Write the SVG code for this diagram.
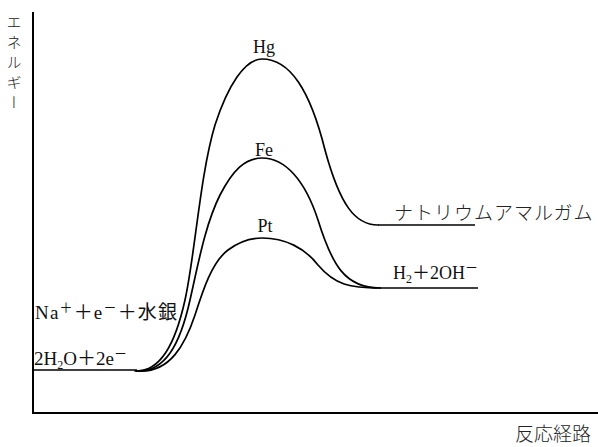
<svg xmlns="http://www.w3.org/2000/svg" width="598" height="447" viewBox="0 0 598 447">
<style>
.ax{stroke:#000;stroke-width:2;fill:none}
.cv{stroke:#000;stroke-width:1.7;fill:none;stroke-linecap:round}
.lv{stroke:#000;stroke-width:1.7;fill:none}
.t{font-family:"Liberation Serif","Times New Roman","Noto Sans CJK JP",serif;fill:#111}
.j{font-family:"Noto Sans CJK JP",sans-serif;fill:#222;font-weight:300}
</style>
<rect width="598" height="447" fill="#fff"/>
<g id="axes">
<path class="ax" d="M33,12 V413 H598"/>
<text class="j" x="14" y="15" font-size="15" writing-mode="vertical-rl" letter-spacing="5" fill="#222">エネルギー</text>
<text class="j" x="515" y="441" font-size="19">反応経路</text>
</g>
<g id="connectors">
<path id="hg-curve" class="cv" d="M135,371 C160,372 175,345 185,300 C195,255 200,175 215,125 C228,85 245,59 262,59 C290,59 310,90 325,150 C340,205 355,225 378,225"/>
<path id="fe-curve" class="cv" d="M137,371 C165,372 180,345 190,300 C198,265 205,225 220,195 C233,170 245,158 262,158 C285,158 305,180 318,220 C332,265 345,288 380,288"/>
<path id="pt-curve" class="cv" d="M140,371 C170,372 185,345 195,315 C203,290 212,262 228,250 C240,241 250,238 262,238 C285,238 305,248 318,265 C335,285 350,288 380,288"/>
</g>
<g id="reactant">
<path class="lv" d="M33,370 H137"/>
<text class="t" x="35" y="319" font-size="19" textLength="142" lengthAdjust="spacing">Na<tspan font-size="13" dy="-7">＋</tspan><tspan dy="7">＋e</tspan><tspan font-size="13" dy="-7">－</tspan><tspan dy="7">＋水銀</tspan></text>
<text class="t" x="34" y="365" font-size="19">2H<tspan font-size="12" dy="4">2</tspan><tspan dy="-4">O＋2e</tspan><tspan font-size="13" dy="-7">－</tspan></text>
</g>
<g id="amalgam">
<path class="lv" d="M378,225 H475"/>
<text class="j" x="394" y="220" font-size="19" letter-spacing="1">ナトリウムアマルガム</text>
</g>
<g id="h2">
<path class="lv" d="M380,288 H478"/>
<text class="t" x="393" y="279" font-size="18">H<tspan font-size="12" dy="4">2</tspan><tspan dy="-4">＋2OH</tspan><tspan font-size="13" dy="-7">－</tspan></text>
</g>
<g id="hg"><text class="t" x="264" y="53" font-size="18" text-anchor="middle">Hg</text></g>
<g id="fe"><text class="t" x="264" y="156" font-size="18" text-anchor="middle">Fe</text></g>
<g id="pt"><text class="t" x="265" y="232" font-size="18" text-anchor="middle">Pt</text></g>
</svg>
